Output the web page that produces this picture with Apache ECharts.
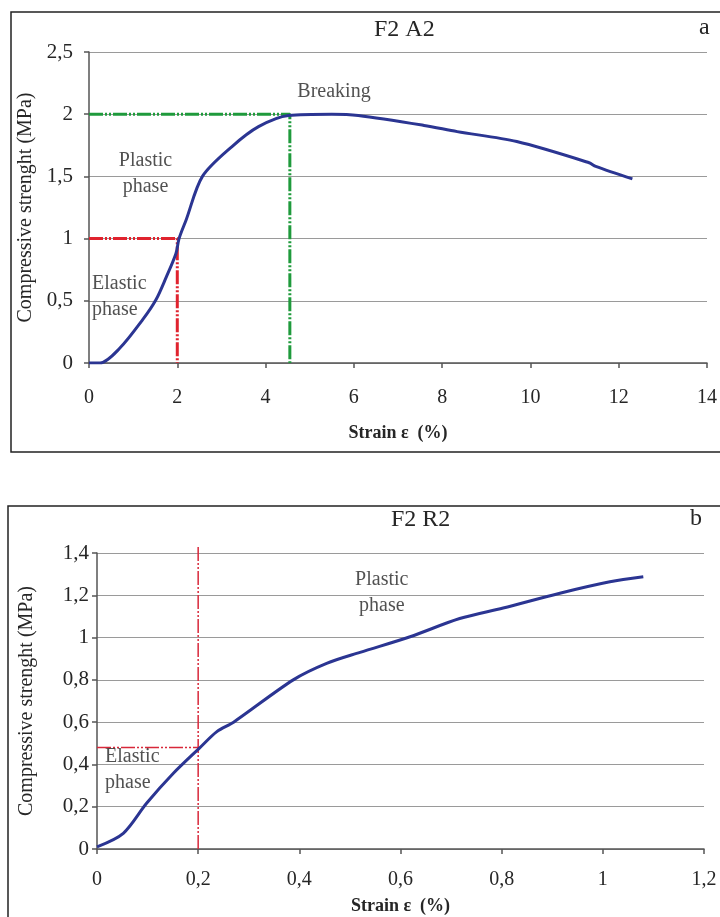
<!DOCTYPE html>
<html>
<head>
<meta charset="utf-8">
<script src="https://cdn.jsdelivr.net/npm/echarts@6/dist/echarts.min.js"></script>
<style>
  html, body { margin: 0; padding: 0; background: #fff; }
  #chart { width: 720px; height: 917px; }
</style>
</head>
<body>
<div id="chart"></div>
<script>
    'use strict';

    // chart a : F2 A2
    var strainA = [0, 0.25, 0.7, 1.22, 1.52, 1.75, 1.97, 2.04, 2.2, 2.57, 3.24, 3.84, 4.52, 5.5, 6.1, 7.59, 8.34, 9.69, 11.33, 11.48, 12.31];
    var stressA = [0, 0, 0.12, 0.35, 0.51, 0.69, 0.88, 1.0, 1.15, 1.5, 1.74, 1.9, 1.99, 2.0, 1.99, 1.91, 1.86, 1.78, 1.61, 1.58, 1.48];
    var elasticA = [2, 1];      // strain, stress at end of elastic phase
    var breakA = [4.55, 2];     // strain, stress at breaking

    // chart b : F2 R2
    var strainB = [0, 0.052, 0.098, 0.151, 0.202, 0.237, 0.27, 0.388, 0.454, 0.52, 0.619, 0.717, 0.803, 0.915, 1.014, 1.08];
    var stressB = [0.01, 0.074, 0.216, 0.358, 0.476, 0.555, 0.6, 0.8, 0.878, 0.93, 1.004, 1.09, 1.14, 1.21, 1.264, 1.288];
    var elasticB = [0.2, 0.48];
    var elasticBTop = 1.43;     // vertical guide runs past the top gridline

    var FONT = '"Liberation Serif", "DejaVu Serif", serif';
    var INK = '#262626';
    var comma = function (v) { return String(v).replace('.', ','); };
    var pairs = function (xs, ys) { return xs.map(function (x, i) { return [x, ys[i]]; }); };

    function axisX(grid, max, interval, margin, gap) {
        return {
            type: 'value', gridIndex: grid, min: 0, max: max, interval: interval,
            name: 'Strain ε  (%)', nameLocation: 'middle', nameGap: gap,
            nameTextStyle: { fontFamily: FONT, fontSize: 18, fontWeight: 'bold', color: INK },
            axisLine: { show: true, onZero: false, lineStyle: { color: '#555', width: 1.5 } },
            axisTick: { show: true, length: 5, lineStyle: { color: '#555', width: 1.5 } },
            axisLabel: { fontFamily: FONT, fontSize: 20, color: INK, margin: margin, formatter: comma },
            splitLine: { show: false }
        };
    }

    function axisY(grid, max, interval, margin, gap) {
        return {
            type: 'value', gridIndex: grid, min: 0, max: max, interval: interval,
            name: 'Compressive strenght (MPa)', nameLocation: 'middle', nameGap: gap,
            nameTextStyle: { fontFamily: FONT, fontSize: 20, color: INK },
            axisLine: { show: true, lineStyle: { color: '#555', width: 1.5 } },
            axisTick: { show: true, length: 5, lineStyle: { color: '#555', width: 1.5 } },
            axisLabel: { fontFamily: FONT, fontSize: 21, color: INK, margin: margin, formatter: comma },
            splitLine: { show: true, lineStyle: { color: '#9a9a9a', width: 1.2 } }
        };
    }

    function guide(grid, data, color, width) {
        return {
            type: 'line', xAxisIndex: grid, yAxisIndex: grid, data: data,
            symbol: 'none', clip: false, silent: true, z: 3,
            lineStyle: { color: color, width: width, type: [14, 2, 2, 2, 2, 2] }
        };
    }

    function note(grid, x, y, text, align) {
        return {
            type: 'scatter', xAxisIndex: grid, yAxisIndex: grid, data: [[x, y]],
            symbolSize: 0, silent: true, z: 5,
            label: {
                show: true, position: 'inside', formatter: text, align: align || 'center',
                fontFamily: FONT, fontSize: 20, lineHeight: 26, color: INK
            }
        };
    }

    function heading(text, left, top) {
        return { text: text, left: left, top: top, textStyle: { fontFamily: FONT, fontSize: 24, fontWeight: 'normal', color: INK } };
    }

    var chart = echarts.init(document.getElementById('chart'), null, { renderer: 'canvas' });

    chart.setOption({
        backgroundColor: '#fff',
        animation: false,
        title: [
            heading('F2 A2', 369, 13),
            heading('a', 694, 11),
            heading('F2 R2', 386, 503),
            heading('b', 685, 502)
        ],
        graphic: [
            { type: 'rect', shape: { x: 11, y: 12, width: 720, height: 440 }, style: { fill: null, stroke: '#222', lineWidth: 1.5 }, silent: true },
            { type: 'rect', shape: { x: 8, y: 506, width: 720, height: 430 }, style: { fill: null, stroke: '#222', lineWidth: 1.5 }, silent: true }
        ],
        grid: [
            { left: 89, top: 52, width: 623, height: 311 },
            { left: 97, top: 553, width: 607, height: 296 }
        ],
        xAxis: [axisX(0, 14, 2, 25, 61), axisX(1, 1.2, 0.2, 21, 48)],
        yAxis: [axisY(0, 2.5, 0.5, 16, 52), axisY(1, 1.4, 0.2, 8, 60)],
        series: [
            guide(0, [[0, elasticA[1]], elasticA, [elasticA[0], 0]], '#e0232e', 3),
            guide(0, [[0, breakA[1]], breakA, [breakA[0], 0]], '#1f9a3c', 3),
            {
                type: 'line', xAxisIndex: 0, yAxisIndex: 0, data: pairs(strainA, stressA),
                symbol: 'none', smooth: 0.3, z: 4,
                lineStyle: { color: '#2b3592', width: 3 }
            },
            note(0, 5.55, 2.18, 'Breaking'),
            note(0, 1.28, 1.52, 'Plastic\nphase'),
            note(0, 0.07, 0.53, 'Elastic\nphase', 'left'),

            guide(1, [[0, elasticB[1]], elasticB], '#d8283a', 1.5),
            guide(1, [[elasticB[0], 0], [elasticB[0], elasticBTop]], '#d8283a', 1.5),
            {
                type: 'line', xAxisIndex: 1, yAxisIndex: 1, data: pairs(strainB, stressB),
                symbol: 'none', smooth: 0.3, z: 4,
                lineStyle: { color: '#2b3592', width: 3 }
            },
            note(1, 0.563, 1.21, 'Plastic\nphase'),
            note(1, 0.016, 0.376, 'Elastic\nphase', 'left')
        ]
    });
</script>
</body>
</html>
